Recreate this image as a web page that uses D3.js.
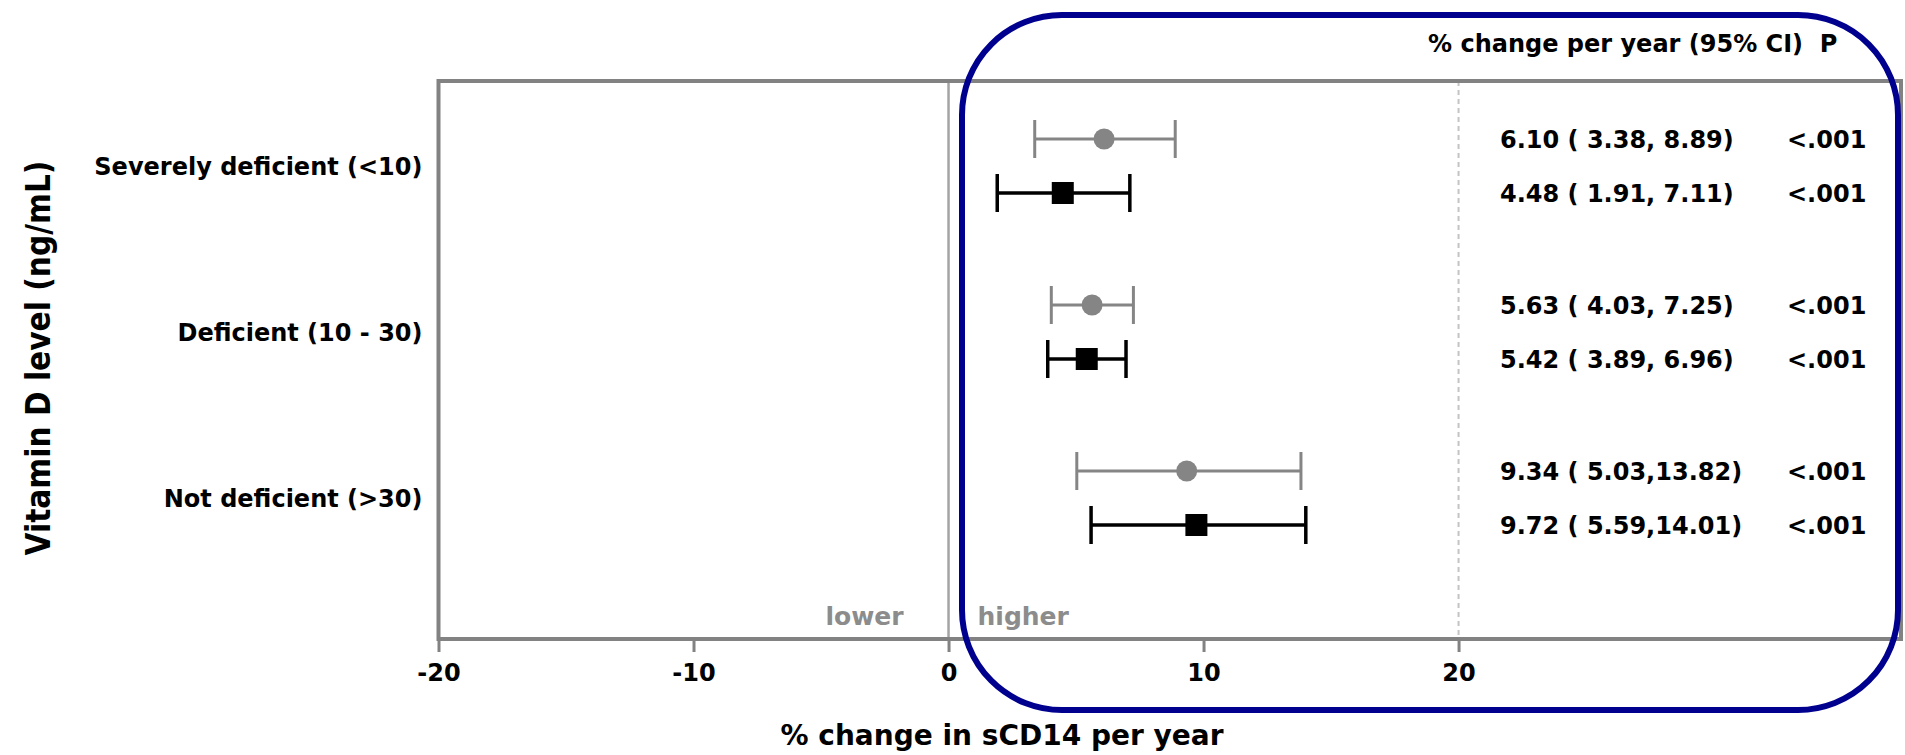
<!DOCTYPE html>
<html>
<head>
<meta charset="utf-8">
<script src="https://cdn.jsdelivr.net/npm/d3@7"></script>
<style>
  html, body { margin: 0; padding: 0; background: #fff; }
  svg { display: block; }
  text { font-family: "DejaVu Sans", sans-serif; font-weight: bold; white-space: pre; }
</style>
</head>
<body>
<svg id="chart" width="1905" height="755"></svg>
<script>
// ---------- data ----------
const categories = ["Severely deficient (<10)", "Deficient (10 - 30)", "Not deficient (>30)"];
const seriesNames = ["Unadjusted", "Adjusted"];
const unadjEst = [6.10, 5.63, 9.34];
const unadjLo  = [3.38, 4.03, 5.03];
const unadjHi  = [8.89, 7.25, 13.82];
const adjEst   = [4.48, 5.42, 9.72];
const adjLo    = [1.91, 3.89, 5.59];
const adjHi    = [7.11, 6.96, 14.01];
const unadjP   = ["<.001", "<.001", "<.001"];
const adjP     = ["<.001", "<.001", "<.001"];
const xTicks   = [-20, -10, 0, 10, 20];
const xTickLabels = ["-20", "-10", "0", "10", "20"];
const xDomain  = [-20, 37.35];
const refLine  = 20;
const headerText = "% change per year (95% CI)  P";
const xTitle = "% change in sCD14 per year";
const yTitle = "Vitamin D level (ng/mL)";
const lowerLabel = "lower";
const higherLabel = "higher";

// ---------- layout ----------
const frame = { left: 438.5, right: 1901, top: 81, bottom: 639 };
const svg = d3.select("#chart");

const x = d3.scaleLinear().domain(xDomain).range([frame.left, frame.right]);
const y = d3.scaleBand().domain(categories).range([83, 581]);
const sub = d3.scalePoint().domain(seriesNames).range([-27, 27]);

const styles = {
  Unadjusted: { color: "#858585", width: 3, shape: "circle" },
  Adjusted:   { color: "#000000", width: 3.5, shape: "square" }
};

const rows = [];
categories.forEach((c, i) => {
  rows.push({ cat: c, s: "Unadjusted", est: unadjEst[i], lo: unadjLo[i], hi: unadjHi[i], p: unadjP[i] });
  rows.push({ cat: c, s: "Adjusted", est: adjEst[i], lo: adjLo[i], hi: adjHi[i], p: adjP[i] });
});
const rowY = d => y(d.cat) + y.bandwidth() / 2 + sub(d.s);

// reference lines
svg.append("line")
  .attr("x1", x(refLine)).attr("x2", x(refLine))
  .attr("y1", frame.top).attr("y2", frame.bottom)
  .attr("stroke", "#c4c4c4").attr("stroke-width", 2).attr("stroke-dasharray", "5,4");
svg.append("line")
  .attr("x1", x(0)).attr("x2", x(0))
  .attr("y1", frame.top).attr("y2", frame.bottom)
  .attr("stroke", "#a4a4a4").attr("stroke-width", 2.5);

// frame
svg.append("rect")
  .attr("x", frame.left).attr("y", frame.top)
  .attr("width", frame.right - frame.left).attr("height", frame.bottom - frame.top)
  .attr("fill", "none").attr("stroke", "#828282").attr("stroke-width", 4);

// x axis
const xAxis = svg.append("g")
  .attr("transform", `translate(0,${frame.bottom})`)
  .call(d3.axisBottom(x).tickValues(xTicks).tickSize(13).tickPadding(12)
    .tickFormat((d, i) => xTickLabels[i]));
xAxis.select(".domain").remove();
xAxis.selectAll(".tick line").attr("stroke", "#828282").attr("stroke-width", 3);
xAxis.selectAll(".tick text")
  .attr("fill", "#000").style("font-size", "24px")
  .style("font-family", "'DejaVu Sans', sans-serif").style("font-weight", "bold");

// category labels
svg.append("g").selectAll("text").data(categories).join("text")
  .attr("x", frame.left - 16)
  .attr("y", d => y(d) + y.bandwidth() / 2)
  .attr("dy", "0.36em")
  .attr("text-anchor", "end")
  .style("font-size", "24px")
  .text(d => d);

// error bars
const cap = 19;
const g = svg.append("g").selectAll("g").data(rows).join("g");
g.append("line")
  .attr("x1", d => x(d.lo)).attr("x2", d => x(d.hi))
  .attr("y1", rowY).attr("y2", rowY)
  .attr("stroke", d => styles[d.s].color).attr("stroke-width", d => styles[d.s].width);
g.append("line")
  .attr("x1", d => x(d.lo)).attr("x2", d => x(d.lo))
  .attr("y1", d => rowY(d) - cap).attr("y2", d => rowY(d) + cap)
  .attr("stroke", d => styles[d.s].color).attr("stroke-width", d => styles[d.s].width);
g.append("line")
  .attr("x1", d => x(d.hi)).attr("x2", d => x(d.hi))
  .attr("y1", d => rowY(d) - cap).attr("y2", d => rowY(d) + cap)
  .attr("stroke", d => styles[d.s].color).attr("stroke-width", d => styles[d.s].width);
g.filter(d => styles[d.s].shape === "circle").append("circle")
  .attr("cx", d => x(d.est)).attr("cy", rowY).attr("r", 10.5)
  .attr("fill", d => styles[d.s].color);
g.filter(d => styles[d.s].shape === "square").append("rect")
  .attr("x", d => x(d.est) - 11).attr("y", d => rowY(d) - 11)
  .attr("width", 22).attr("height", 22)
  .attr("fill", d => styles[d.s].color);

// value text
const fmt = v => v.toFixed(2).padStart(5, " ");
svg.append("g").selectAll("text").data(rows).join("text")
  .attr("x", 1500).attr("y", rowY).attr("dy", "0.36em")
  .style("font-size", "24px")
  .text(d => `${d.est.toFixed(2)} (${fmt(d.lo)},${fmt(d.hi)})`);
svg.append("g").selectAll("text").data(rows).join("text")
  .attr("x", 1787).attr("y", rowY).attr("dy", "0.36em")
  .style("font-size", "24px")
  .text(d => d.p);

// header
svg.append("text").attr("x", 1428).attr("y", 52)
  .style("font-size", "24px").text(headerText);

// lower / higher
svg.append("text").attr("x", x(0) - 45).attr("y", 625)
  .attr("text-anchor", "end").attr("fill", "#8c8c8c")
  .style("font-size", "25px").text(lowerLabel);
svg.append("text").attr("x", x(0) + 29).attr("y", 625)
  .attr("fill", "#8c8c8c")
  .style("font-size", "25px").text(higherLabel);

// axis titles
svg.append("text").attr("x", 1002).attr("y", 745)
  .attr("text-anchor", "middle").style("font-size", "28px").text(xTitle);
svg.append("text")
  .attr("transform", "translate(50,358) rotate(-90)")
  .attr("text-anchor", "middle")
  .style("font-family", "'DejaVu Sans Condensed', 'DejaVu Sans', sans-serif")
  .style("font-size", "33px").text(yTitle);

// highlight box
svg.append("rect")
  .attr("x", 962).attr("y", 15)
  .attr("width", 1898 - 962).attr("height", 710 - 15)
  .attr("rx", 100).attr("ry", 100)
  .attr("fill", "none").attr("stroke", "#00008f").attr("stroke-width", 6);
</script>
</body>
</html>
